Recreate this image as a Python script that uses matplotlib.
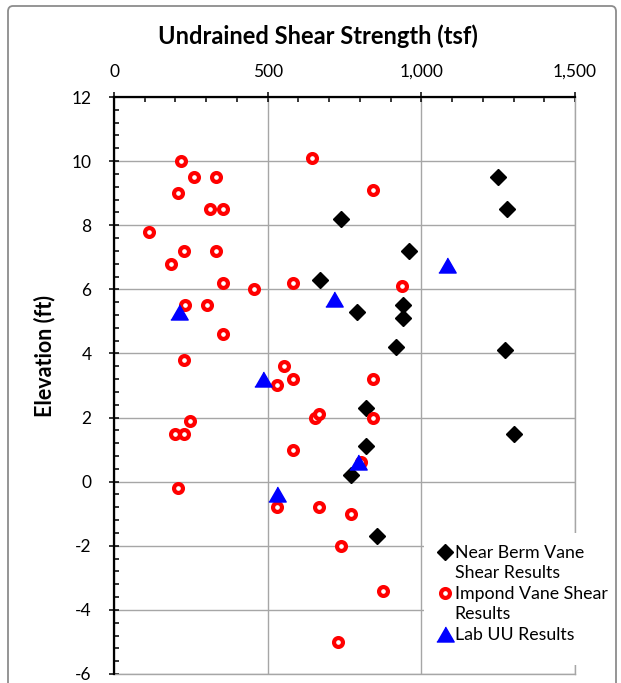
import matplotlib
matplotlib.use("Agg")
import matplotlib.pyplot as plt
from matplotlib.lines import Line2D
from matplotlib.patches import Rectangle, FancyBboxPatch
from matplotlib.ticker import MultipleLocator, FuncFormatter

plt.rcParams["font.family"] = ["Lato", "DejaVu Sans"]
plt.rcParams["axes.unicode_minus"] = False

# Near berm vane shear tests
berm_su = [1250, 1280, 740, 960, 670, 940, 790, 940, 918, 1273, 820, 1303, 821, 772, 856]
berm_elev = [9.5, 8.5, 8.2, 7.2, 6.3, 5.5, 5.3, 5.1, 4.2, 4.1, 2.3, 1.5, 1.1, 0.2, -1.7]

# Impoundment vane shear tests
impond_su = [219, 261, 332, 207, 311, 354, 115, 228, 332, 186, 355, 582, 457, 230, 301,
             355, 228, 645, 842, 937, 552, 531, 582, 842, 248, 198, 229, 654, 667, 842,
             582, 804, 207, 531, 667, 772, 737, 874, 728]
impond_elev = [10.0, 9.5, 9.5, 9.0, 8.5, 8.5, 7.8, 7.2, 7.2, 6.8, 6.2, 6.2, 6.0, 5.5, 5.5,
               4.6, 3.8, 10.1, 9.1, 6.1, 3.6, 3.0, 3.2, 3.2, 1.9, 1.5, 1.5, 2.0, 2.1, 2.0,
               1.0, 0.6, -0.2, -0.8, -0.8, -1.0, -2.0, -3.4, -5.0]

# Laboratory UU triaxial tests
lab_su = [213, 717, 1084, 485, 793, 529]
lab_elev = [5.3, 5.7, 6.75, 3.2, 0.6, -0.4]

W, H = 621, 683
fig = plt.figure(figsize=(W / 100, H / 100), dpi=100)
fig.patch.set_facecolor("white")

# chart-area border
fig.add_artist(FancyBboxPatch((8 / W, 1 - 700 / H), 608 / W, 694 / H,
                              boxstyle="round,pad=0,rounding_size=0.008",
                              transform=fig.transFigure, facecolor="none",
                              edgecolor="#8c8c8c", linewidth=1.3, zorder=0))

left, right, top, bottom = 114, 575, 97, 674
ax = fig.add_axes([left / W, 1 - bottom / H, (right - left) / W, (bottom - top) / H])
ax.set_xlim(0, 1500)
ax.set_ylim(-6, 12)

tri = [(-1, -0.866), (1, -0.866), (0, 0.866)]
circ_style = dict(marker="o", markersize=6.4, markerfacecolor="white",
                  markeredgecolor="#ff0000", markeredgewidth=3.0)
diam_style = dict(marker="D", markersize=8.2, color="black")
tri_style = dict(marker=tri, markersize=12.5, color="#0000ff")

ax.plot(berm_su, berm_elev, linestyle="none", zorder=3, clip_on=False, **diam_style)
ax.plot(impond_su, impond_elev, linestyle="none", zorder=4, clip_on=False, **circ_style)
ax.plot(lab_su, lab_elev, linestyle="none", zorder=5, clip_on=False, **tri_style)

# axes: x along the top
ax.xaxis.tick_top()
ax.xaxis.set_major_locator(MultipleLocator(500))
ax.xaxis.set_minor_locator(MultipleLocator(100))
ax.yaxis.set_major_locator(MultipleLocator(2))
ax.yaxis.set_minor_locator(MultipleLocator(0.4))
ax.xaxis.set_major_formatter(FuncFormatter(lambda v, p: f"{v:,.0f}"))
ax.yaxis.set_major_formatter(FuncFormatter(lambda v, p: f"{v:.0f}"))

ax.tick_params(axis="both", which="major", direction="inout", length=7.5, width=1.1,
               labelsize=12.5, colors="black")
ax.tick_params(axis="both", which="minor", direction="in", length=3.8, width=1.1)
ax.tick_params(axis="x", which="major", pad=8.5)
ax.tick_params(axis="y", which="major", pad=12.5)

ax.grid(True, which="major", color="#a6a6a6", linewidth=1.0)
ax.set_axisbelow(True)
for side in ("left", "top"):
    ax.spines[side].set_color("black")
    ax.spines[side].set_linewidth(1.6)
    ax.spines[side].set_zorder(6)
for side in ("right", "bottom"):
    ax.spines[side].set_color("#a6a6a6")
    ax.spines[side].set_linewidth(1.0)

fig.text(318 / W, 1 - 36 / H, "Undrained Shear Strength (tsf)", ha="center", va="center",
         fontsize=17, fontweight="bold")
fig.text(45 / W, 1 - 356 / H, "Elevation (ft)", ha="center", va="center", rotation=90,
         fontsize=15.5, fontweight="bold")

# legend with a white backing box
fig.add_artist(Rectangle((424 / W, 1 - 665 / H), 188 / W, 132 / H, transform=fig.transFigure,
                         facecolor="white", edgecolor="none", zorder=3))
blank = Line2D([], [], linestyle="none")
handles = [
    Line2D([], [], linestyle="none", **diam_style),
    blank,
    Line2D([], [], linestyle="none", **circ_style),
    blank,
    Line2D([], [], linestyle="none", **tri_style),
]
labels = ["Near Berm Vane", "Shear Results", "Impond Vane Shear", "Results", "Lab UU Results"]
leg = fig.legend(handles, labels, loc="upper left", bbox_to_anchor=(436 / W, 1 - 545 / H),
                 bbox_transform=fig.transFigure, frameon=False, borderpad=0,
                 borderaxespad=0, handlelength=1.0, handletextpad=0.05, labelspacing=0.25,
                 fontsize=12.8)
leg.set_zorder(4)

fig.savefig("out.png", dpi=100)
